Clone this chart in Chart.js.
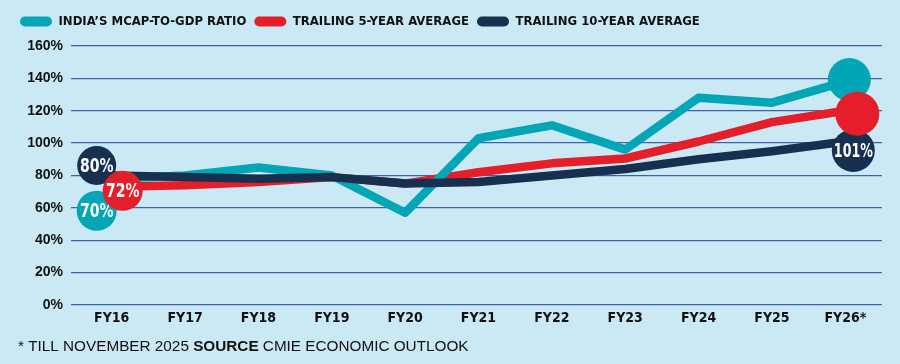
<!DOCTYPE html>
<html>
<head>
<meta charset="utf-8">
<script src="https://cdn.jsdelivr.net/npm/chart.js@4.4.1/dist/chart.umd.min.js"></script>
<style>
html,body{margin:0;padding:0;background:#CBE9F5;}
#wrap{width:900px;height:364px;position:relative;}
</style>
</head>
<body>
<div id="wrap"><canvas id="c" width="900" height="364"></canvas></div>
<script>
// ---- data ----
const categories = ['FY16','FY17','FY18','FY19','FY20','FY21','FY22','FY23','FY24','FY25','FY26*'];
const mcapToGdp   = [78, 80, 85, 80, 57, 103, 111, 96, 128, 125, 138];
const trailing5yr = [73, 74, 76, 79, 75, 82, 87.5, 90.5, 101, 113, 120];
const trailing10yr= [80, 79, 78, 79, 75, 76, 80, 84, 90, 95, 101];
const seriesNames = ['INDIA\u2019S MCAP-TO-GDP RATIO','TRAILING 5-YEAR AVERAGE','TRAILING 10-YEAR AVERAGE'];
const yTicks = [0,20,40,60,80,100,120,140,160];
const startBubbleText = ['70%','72%','80%'];
const endBubbleText   = ['', '', '101%'];
const footNote = ['* TILL NOVEMBER 2025 ', 'SOURCE', ' CMIE ECONOMIC OUTLOOK'];

const colors = ['#00A6B6', '#E41F2A', '#17304F'];
const NARROW = '"DejaVu Sans Condensed", "Liberation Sans Narrow", sans-serif';

const bgPlugin = {
  id:'bg',
  beforeDraw(chart){
    const ctx = chart.ctx; ctx.save();
    ctx.fillStyle = '#CBE9F5'; ctx.fillRect(0,0,chart.width,chart.height); ctx.restore();
  }
};

const legendFix = {
  id:'legendFix',
  beforeLayout(chart){
    const lg = chart.legend;
    if (lg && !lg._patched){
      const fit = lg.fit;
      lg.fit = function(){ fit.call(this); this.height = 39; };
      lg._patched = true;
    }
  }
};

// bubble offsets (pixels) relative to the data point
const startOffsets = [[-15, 32], [11, 4], [-15, -10]];
const endOffsets   = [[4, -2], [12, 3], [8, 9]];
const startRadius = [20, 20, 19.5];
const endRadius   = [21.5, 22, 21.5];

const bubblePlugin = {
  id:'bubbles',
  afterDatasetsDraw(chart){
    const ctx = chart.ctx;
    const drawOrder = [0, 2, 1];
    ctx.save();
    for (const di of drawOrder){
      const meta = chart.getDatasetMeta(di);
      const pts = [meta.data[0], meta.data[meta.data.length-1]];
      const offs = [startOffsets[di], endOffsets[di]];
      const rads = [startRadius[di], endRadius[di]];
      const txts = [startBubbleText[di], endBubbleText[di]];
      for (let k=0;k<2;k++){
        const x = pts[k].x + offs[k][0], y = pts[k].y + offs[k][1];
        ctx.beginPath(); ctx.arc(x, y, rads[k], 0, Math.PI*2);
        ctx.fillStyle = colors[di]; ctx.fill();
        if (txts[k]){
          ctx.save();
          ctx.translate(x, y + 1);
          ctx.scale(txts[k].length > 3 ? 0.7 : 0.78, 1);
          ctx.fillStyle = '#ffffff';
          ctx.font = 'bold 20px ' + NARROW;
          ctx.textAlign = 'center'; ctx.textBaseline = 'middle';
          ctx.fillText(txts[k], 0, 0);
          ctx.restore();
        }
      }
    }
    ctx.restore();
  }
};

const footPlugin = {
  id:'foot',
  afterDraw(chart){
    const ctx = chart.ctx; ctx.save();
    ctx.fillStyle = '#111111'; ctx.textBaseline = 'alphabetic'; ctx.textAlign = 'left';
    let x = 18; const y = 351;
    const fonts = ['15.3px "Liberation Sans", sans-serif','bold 15.3px "Liberation Sans", sans-serif','15.3px "Liberation Sans", sans-serif'];
    for (let i=0;i<footNote.length;i++){
      ctx.font = fonts[i];
      ctx.fillText(footNote[i], x, y);
      x += ctx.measureText(footNote[i]).width;
    }
    ctx.restore();
  }
};

function ds(label, data, color, order){
  return {
    label, data, borderColor: color, backgroundColor: color,
    borderWidth: 8.5, pointRadius: 0, pointHoverRadius: 0, tension: 0,
    borderJoinStyle: 'round', borderCapStyle: 'round', order
  };
}

new Chart(document.getElementById('c'), {
  type: 'line',
  data: {
    labels: categories,
    datasets: [
      ds(seriesNames[0], mcapToGdp, colors[0], 1),
      ds(seriesNames[1], trailing5yr, colors[1], 2),
      ds(seriesNames[2], trailing10yr, colors[2], 0)
    ]
  },
  options: {
    responsive: false,
    animation: false,
    devicePixelRatio: 1,
    layout: { padding: { left: 12, right: 18, top: 7, bottom: 0 } },
    plugins: {
      tooltip: { enabled: false },
      legend: {
        position: 'top', align: 'start',
        labels: {
          color: '#111111',
          font: { family: NARROW, size: 13, weight: 'bold' },
          boxWidth: 32, boxHeight: 10, padding: 8,
          useBorderRadius: true, borderRadius: 5,
          sort: (a, b) => a.datasetIndex - b.datasetIndex,
          generateLabels(chart){
            return chart.data.datasets.map((d, i) => ({
              text: d.label, fillStyle: d.borderColor, strokeStyle: d.borderColor,
              lineWidth: 0, datasetIndex: i, borderRadius: 5, fontColor: '#111111'
            }));
          }
        }
      }
    },
    scales: {
      x: {
        offset: true,
        grid: { display: false, drawTicks: false },
        border: { display: false },
        ticks: { color: '#111111', padding: 5, font: { family: NARROW, size: 14, weight: 'bold' }, maxRotation: 0 },
        afterFit(s){ s.height = 59; }
      },
      y: {
        min: 0, max: 160,
        afterBuildTicks(s){ s.ticks = yTicks.map(v => ({ value: v })); },
        grid: { color: '#3D63AC', lineWidth: 1.3, drawTicks: true, tickLength: 4 },
        border: { display: false },
        ticks: {
          color: '#111111', padding: 8,
          font: { family: '"Liberation Sans", Arial, sans-serif', size: 14, weight: 'bold' },
          callback: v => v + '%'
        },
        afterFit(s){ s.width = 63; }
      }
    }
  },
  plugins: [bgPlugin, legendFix, bubblePlugin, footPlugin]
});
</script>
</body>
</html>
